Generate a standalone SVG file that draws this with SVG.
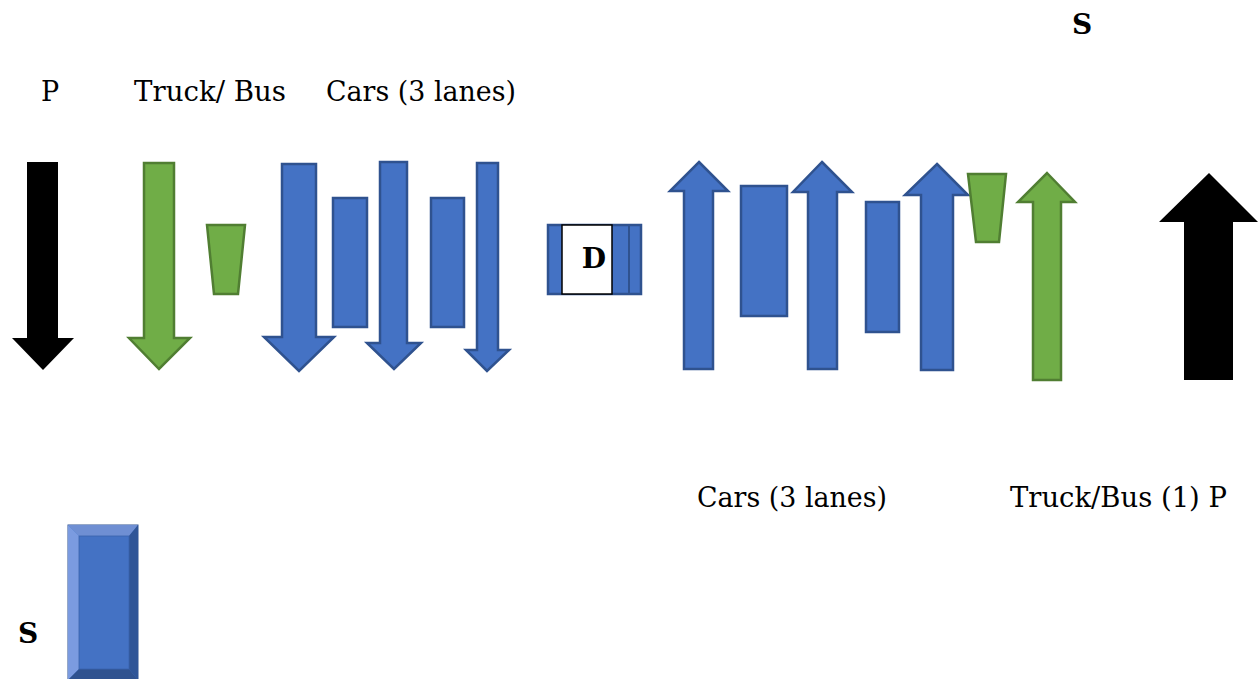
<svg xmlns="http://www.w3.org/2000/svg" width="1260" height="679" viewBox="0 0 1260 679">
<style>
.blue{fill:#4472C4;stroke:#2F528F;stroke-width:2.5;stroke-linejoin:miter}
.green{fill:#70AD47;stroke:#507E32;stroke-width:2.5}
.black{fill:#000;stroke:none}
.lbl{font-family:"DejaVu Serif","Liberation Serif",serif;font-size:27px;fill:#000}
.bold{font-family:"DejaVu Serif","Liberation Serif",serif;font-size:28px;font-weight:bold;fill:#000}
</style>
<rect width="1260" height="679" fill="#fff"/>
<g id="labels">
<text class="lbl" x="50" y="101" text-anchor="middle">P</text>
<text class="lbl" x="134" y="101" textLength="152" lengthAdjust="spacingAndGlyphs">Truck/ Bus</text>
<text class="lbl" x="326" y="101" textLength="190" lengthAdjust="spacingAndGlyphs">Cars (3 lanes)</text>
<text class="lbl" x="697" y="507" textLength="190" lengthAdjust="spacingAndGlyphs">Cars (3 lanes)</text>
<text class="lbl" x="1010" y="507" textLength="217" lengthAdjust="spacingAndGlyphs">Truck/Bus (1) P</text>
<text class="bold" x="1082" y="34" text-anchor="middle">S</text>
<text class="bold" x="28" y="643" text-anchor="middle">S</text>
</g>
<g id="p-down"><polygon class="black" points="27,162 58,162 58,338 74,338 43,370 12,338 27,338"/></g>
<g id="truck-down"><polygon class="green" points="144,163 174,163 174,338 190,338 159,369 129,338 144,338"/></g>
<g id="truck-trap-left"><polygon class="green" points="207,225 245,225 238,294 214,294"/></g>
<g id="car-down-1"><polygon class="blue" points="282,164 316,164 316,337 334,337 299,371 264,337 282,337"/></g>
<g id="car-rect-1"><rect class="blue" x="333" y="198" width="34" height="129"/></g>
<g id="car-down-2"><polygon class="blue" points="380,162 407,162 407,343 421,343 394,369 367,343 380,343"/></g>
<g id="car-rect-2"><rect class="blue" x="431" y="198" width="33" height="129"/></g>
<g id="car-down-3"><polygon class="blue" points="477,163 498,163 498,350 509,350 487,371 466,350 477,350"/></g>
<g id="divider">
<rect class="blue" x="548" y="225" width="93" height="69" stroke-width="2"/>
<line x1="629" y1="225" x2="629" y2="294" stroke="#2F528F" stroke-width="2"/>
<rect x="562" y="225" width="50" height="69" fill="#fff" stroke="#000" stroke-width="1.5"/>
<text class="bold" x="594" y="268" text-anchor="middle">D</text>
</g>
<g id="car-up-1"><polygon class="blue" points="699,162 728,191 713,191 713,369 684,369 684,191 670,191"/></g>
<g id="car-rect-3"><rect class="blue" x="741" y="186" width="46" height="130"/></g>
<g id="car-up-2"><polygon class="blue" points="822,162 852,192 837,192 837,369 808,369 808,192 793,192"/></g>
<g id="car-rect-4"><rect class="blue" x="866" y="202" width="33" height="130"/></g>
<g id="car-up-3"><polygon class="blue" points="937,164 968,195 953,195 953,370 921,370 921,195 905,195"/></g>
<g id="truck-trap-right"><polygon class="green" points="968,174 1006,174 999,242 976,242"/></g>
<g id="truck-up"><polygon class="green" points="1047,173 1075,202 1061,202 1061,380 1033,380 1033,202 1018,202"/></g>
<g id="p-up"><polygon class="black" points="1209,173 1258,222 1233,222 1233,380 1184,380 1184,222 1159,222"/></g>
<g id="s-block">
<rect x="68" y="525" width="70" height="156" fill="#4472C4" stroke="#2F528F" stroke-width="1"/>
<polygon points="68,525 138,525 129,536 79,536" fill="#6F8FD3"/>
<polygon points="68,525 79,536 79,669 68,680" fill="#7B9BE0"/>
<polygon points="138,525 138,680 129,669 129,536" fill="#2F5597"/>
<polygon points="68,680 138,680 129,669 79,669" fill="#2F528F"/>
<rect x="79" y="536" width="50" height="133" fill="#4472C4" stroke="#3A63AC" stroke-width="0.8"/>
</g>
</svg>
